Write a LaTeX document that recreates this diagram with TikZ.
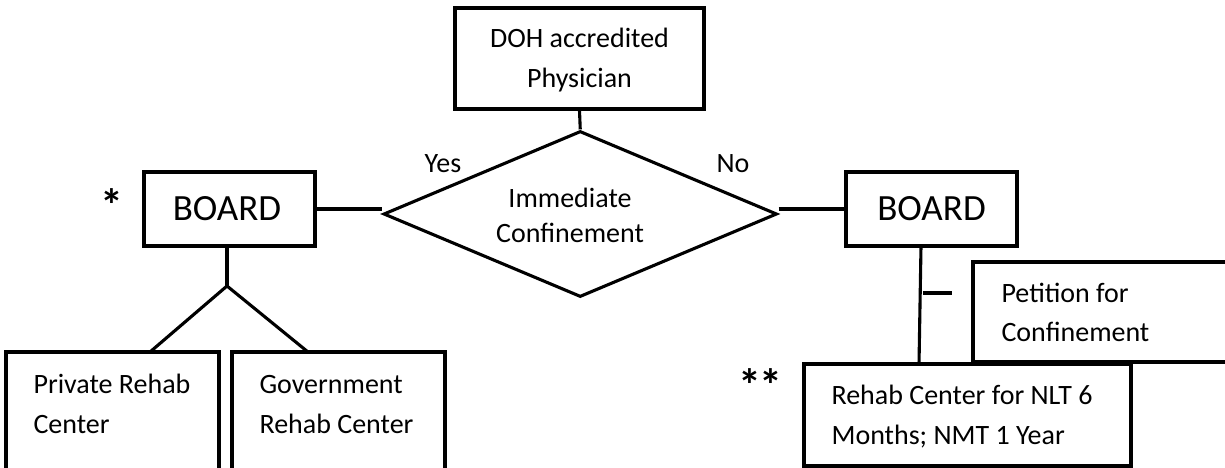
\documentclass[tikz,border=0pt]{standalone}
\usepackage{fontspec}
\setmainfont{Carlito}
\usetikzlibrary{shapes.geometric}

\begin{document}
\begin{tikzpicture}[x=1pt, y=-1pt, line width=3.1pt,
  box/.style 2 args={draw, rectangle, inner sep=0pt, minimum width=#1, minimum height=#2},
  small/.style={inner sep=0pt, font=\fontsize{28}{40}\selectfont},
  big/.style={inner sep=0pt, font=\fontsize{37}{44}\selectfont},
  star/.style={inner sep=0pt, font=\fontsize{46}{50}\selectfont\bfseries}]
  \useasboundingbox (0,0) rectangle (1225,468);

  % boxes
  \node[box={249pt}{101pt}] (doh) at (579.5,58.5) {};
  \node[draw, diamond, inner sep=0pt, aspect=2.37,
        minimum width=393.5pt, minimum height=166pt] (dec) at (580.25,214) {};
  \node[box={171pt}{74pt}] (lb) at (229.5,209) {};
  \node[box={171pt}{74pt}] (rb) at (931.5,209) {};
  \node[box={213pt}{123pt}] (priv) at (112.5,413.5) {};
  \node[box={213pt}{123pt}] (gov) at (338.5,413.5) {};
  \node[box={267pt}{100pt}] (pet) at (1106.5,312) {};
  \node[box={327pt}{102pt}] (rehab) at (967.5,415) {};

  % texts
  \node[small, anchor=base] (doh1) at (579.5,48) {DOH accredited};
  \node[small, anchor=base] (doh2) at (579.5,88) {Physician};
  \node[small, anchor=base] (dec1) at (570,207) {Immediate};
  \node[small, anchor=base] (dec2) at (570,242) {Confinement};
  \node[small, anchor=base] (yes) at (443,172) {Yes};
  \node[small, anchor=base] (no) at (733,172) {No};
  \node[big] (lbt) at (227,209) {BOARD};
  \node[big] (rbt) at (931.5,209) {BOARD};
  \node[small, anchor=base west] (priv1) at (32,393) {Private Rehab};
  \node[small, anchor=base west] (priv2) at (32,433) {Center};
  \node[small, anchor=base west] (gov1) at (258,393) {Government};
  \node[small, anchor=base west] (gov2) at (258,433) {Rehab Center};
  \node[small, anchor=base west] (pet1) at (1000,302) {Petition for};
  \node[small, anchor=base west] (pet2) at (1000,341) {Confinement};
  \node[small, anchor=base west] (reh1) at (830,404) {Rehab Center for NLT 6};
  \node[small, anchor=base west] (reh2) at (830,444) {Months; NMT 1 Year};
  \node[star, anchor=north] (s1) at (112,187) {*};
  \node[star, anchor=north] (s2) at (760.5,367) {*\kern-2pt*};

  % connectors
  \draw (doh.south) -- (dec.north);
  \draw (lb.east) -- (lb.east -| dec.west);
  \draw (rb.west -| dec.east) -- (rb.west);

  \coordinate (apex) at (227,286);
  \coordinate (pl) at (150,352);
  \coordinate (gl) at (308,352);
  \draw (lb.south -| apex) -- (apex);
  \draw (pl) -- (apex) -- (gl);

  \coordinate (st) at (921,246);
  \coordinate (sb) at (919,364);
  \draw (st) -- (sb);
  \coordinate (d1) at (923,293);
  \coordinate (d2) at (952,293);
  \draw (d1) -- (d2);
\end{tikzpicture}
\end{document}
